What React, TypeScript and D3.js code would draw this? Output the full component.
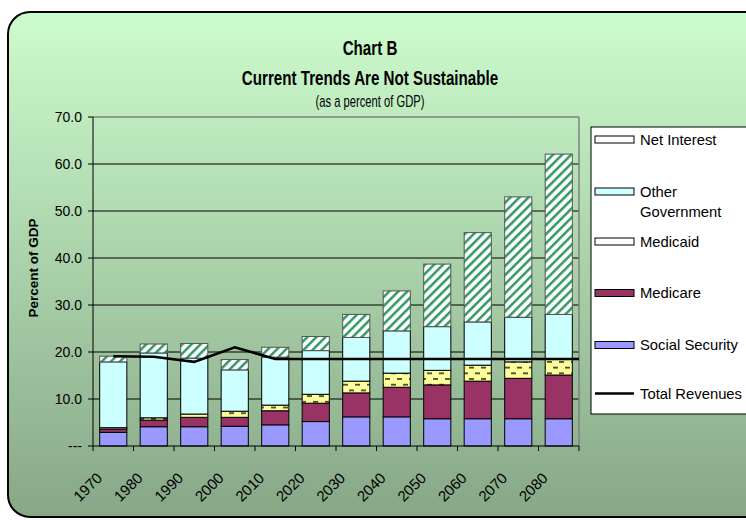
import * as d3 from 'd3'

const years = ['1970', '1980', '1990', '2000', '2010', '2020', '2030', '2040', '2050', '2060', '2070', '2080']
const socialSecurity = [2.9, 4.1, 4.1, 4.2, 4.5, 5.2, 6.2, 6.2, 5.8, 5.8, 5.8, 5.8]
const medicare = [0.7, 1.4, 2.0, 1.9, 3.0, 3.9, 5.1, 6.3, 7.2, 8.0, 8.6, 9.3]
const medicaid = [0.3, 0.5, 0.7, 1.3, 1.2, 1.9, 2.5, 3.0, 3.1, 3.4, 3.5, 3.3]
const otherGovernment = [14.0, 13.8, 11.9, 8.8, 10.2, 9.3, 9.3, 9.0, 9.3, 9.2, 9.5, 9.6]
const netInterest = [1.2, 1.9, 3.1, 2.2, 2.1, 3.0, 4.9, 8.5, 13.3, 19.0, 25.6, 34.1]
const totalRevenues = [19.1, 19.0, 17.9, 21.0, 18.5, 18.5, 18.5, 18.5, 18.5, 18.5, 18.5, 18.5]
const yTicks = [0, 10, 20, 30, 40, 50, 60, 70]

const keys = ['socialSecurity', 'medicare', 'medicaid', 'otherGovernment', 'netInterest']
const fills: Record<string, string> = {
  socialSecurity: '#9999ff',
  medicare: '#993366',
  medicaid: 'url(#medicaidPat)',
  otherGovernment: '#ccffff',
  netInterest: 'url(#interestPat)'
}

const FONT = '"Liberation Sans", Arial, sans-serif'

export default function App() {
  const width = 746
  const height = 520
  const margin = { top: 117, right: 167, bottom: 74, left: 93 }

  const table = years.map((y, i) => ({
    year: y,
    socialSecurity: socialSecurity[i],
    medicare: medicare[i],
    medicaid: medicaid[i],
    otherGovernment: otherGovernment[i],
    netInterest: netInterest[i]
  }))
  const series = d3.stack<any>().keys(keys)(table)

  const x = d3.scaleBand()
    .domain(years)
    .range([margin.left, width - margin.right])
    .paddingInner(0.33)
    .paddingOuter(0.165)
  const y = d3.scaleLinear().domain([0, 70]).range([height - margin.bottom, margin.top])

  const x0 = margin.left
  const x1 = width - margin.right
  const step = x.step()
  const boundaries = d3.range(years.length + 1).map(i => x0 + i * step)

  const linePts: [number, number][] = years.map((yr, i) => [x(yr)! + x.bandwidth() / 2, y(totalRevenues[i])])
  linePts.push([x1, y(totalRevenues[totalRevenues.length - 1])])
  const line = d3.line()

  const legendItems = [
    { label: ['Net Interest'], fill: '#ffffff', y: 139.5 },
    { label: ['Other', 'Government'], fill: '#ccffff', y: 191.5 },
    { label: ['Medicaid'], fill: '#ffffff', y: 241.5 },
    { label: ['Medicare'], fill: '#993366', y: 293 },
    { label: ['Social Security'], fill: '#9999ff', y: 345 }
  ]

  const titleX = 370

  return (
    <svg width={width} height={height} style={{ position: 'absolute', left: 0, top: 0 }} fontFamily={FONT}>
      <defs>
        <linearGradient id="bg" x1="0" y1="0" x2="0" y2="1">
          <stop offset="0" stopColor="#cdfccd" />
          <stop offset="1" stopColor="#87a787" />
        </linearGradient>
        <pattern id="interestPat" width="6.4" height="6.4" patternUnits="userSpaceOnUse" patternTransform="rotate(45)">
          <rect width="6.4" height="6.4" fill="#ffffff" />
          <rect width="2.5" height="6.4" fill="#339966" />
        </pattern>
        <pattern id="medicaidPat" width="12" height="11.4" patternUnits="userSpaceOnUse">
          <rect width="12" height="11.4" fill="#ffff99" />
          <rect x="1" y="2" width="5" height="1.6" fill="#333333" />
          <rect x="7" y="7.7" width="5" height="1.6" fill="#333333" />
        </pattern>
      </defs>

      <rect x={8} y={12} width={780} height={505} rx={22} fill="url(#bg)" stroke="#000" strokeWidth={2} />

      <g textAnchor="middle" fontWeight="bold" fill="#000">
        <text transform={`translate(${titleX},55) scale(0.74,1)`} fontSize={20.5}>Chart B</text>
        <text transform={`translate(${titleX},85) scale(0.74,1)`} fontSize={20.5}>Current Trends Are Not Sustainable</text>
      </g>
      <text transform={`translate(${titleX},107) scale(0.7,1)`} fontSize={16} textAnchor="middle">(as a percent of GDP)</text>

      {/* gridlines */}
      {yTicks.filter(t => t > 0 && t < 70).map(t => (
        <line key={t} x1={x0} x2={x1} y1={y(t)} y2={y(t)} stroke="#000" strokeWidth={1} />
      ))}
      <line x1={x0} x2={x1} y1={y(70)} y2={y(70)} stroke="#808080" strokeWidth={1.5} />
      <line x1={x1} x2={x1} y1={y(70)} y2={y(0)} stroke="#808080" strokeWidth={1.5} />

      {/* bars */}
      {series.map(s => (
        <g key={s.key}>
          {s.map((d, i) => (
            <rect
              key={i}
              x={x(years[i])}
              y={y(d[1])}
              width={x.bandwidth()}
              height={y(d[0]) - y(d[1])}
              fill={fills[s.key]}
              stroke={s.key === 'netInterest' ? '#555' : '#000'}
              strokeWidth={1}
            />
          ))}
        </g>
      ))}

      {/* revenues line */}
      <path d={line(linePts)!} fill="none" stroke="#000" strokeWidth={2.6} strokeLinejoin="miter" />

      {/* axes */}
      <line x1={x0} x2={x0} y1={y(70)} y2={y(0)} stroke="#000" strokeWidth={1} />
      <line x1={x0} x2={x1} y1={y(0)} y2={y(0)} stroke="#000" strokeWidth={1.2} />
      {yTicks.map(t => (
        <g key={t}>
          <line x1={x0 - 5} x2={x0} y1={y(t)} y2={y(t)} stroke="#000" />
          <text x={82} y={y(t)} dy="0.35em" textAnchor="end" fontSize={14}>
            {t === 0 ? '---' : t.toFixed(1)}
          </text>
        </g>
      ))}
      {boundaries.map((b, i) => (
        <line key={i} x1={b} x2={b} y1={y(0)} y2={y(0) + 5} stroke="#000" />
      ))}
      {years.map(yr => (
        <text
          key={yr}
          transform={`translate(${x(yr)! + x.bandwidth() / 2 - 10},${y(0) + 33}) rotate(-45)`}
          textAnchor="end"
          fontSize={15}
        >
          {yr}
        </text>
      ))}

      <text transform="translate(38,268) rotate(-90)" textAnchor="middle" fontWeight="bold" fontSize={13.5}>
        Percent of GDP
      </text>

      {/* legend */}
      <rect x={591} y={127} width={200} height={287} fill="#fff" stroke="#000" strokeWidth={1} />
      {legendItems.map(item => (
        <g key={item.label[0]}>
          <rect x={595} y={item.y - 3.5} width={39} height={7} fill={item.fill} stroke="#000" strokeWidth={1} />
          {item.label.map((l, j) => (
            <text key={l} x={640} y={item.y + j * 20.5} dy="0.35em" fontSize={14.8}>{l}</text>
          ))}
        </g>
      ))}
      <line x1={595} x2={634} y1={393.5} y2={393.5} stroke="#000" strokeWidth={2.6} />
      <text x={640} y={393.5} dy="0.35em" fontSize={14.8}>Total Revenues</text>
    </svg>
  )
}
